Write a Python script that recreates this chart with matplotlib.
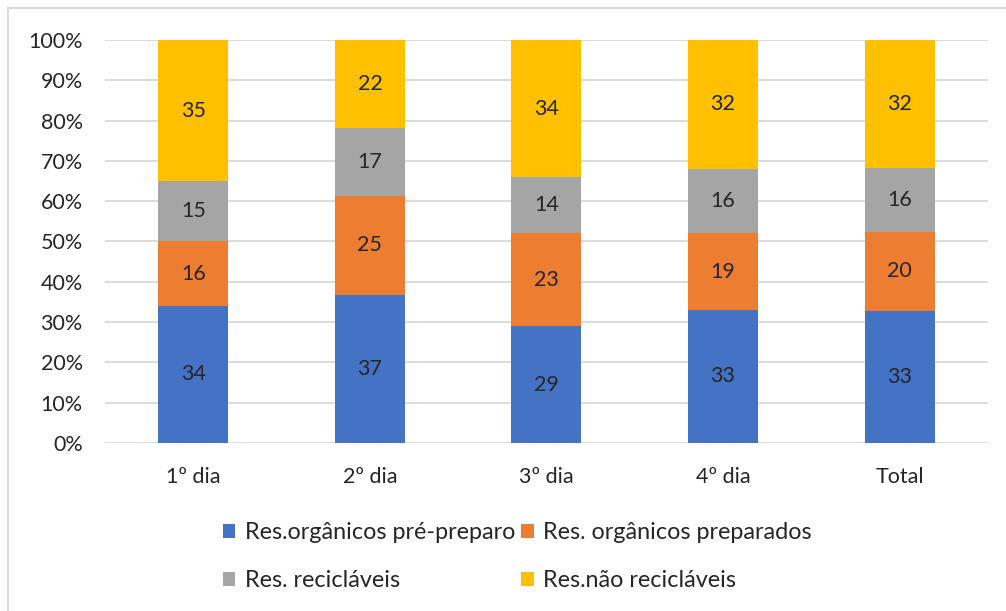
#!/usr/bin/env python3
"""100% stacked bar chart of waste composition per day."""

import matplotlib.pyplot as plt
import numpy as np
from matplotlib.patches import Rectangle
from matplotlib.ticker import PercentFormatter

plt.rcParams["font.family"] = ["Lato", "DejaVu Sans"]

days = ["1º dia", "2º dia", "3º dia", "4º dia", "Total"]
series_names = [
    "Res.orgânicos pré-preparo",
    "Res. orgânicos preparados",
    "Res. recicláveis",
    "Res.não recicláveis",
]
organicos_pre = [34, 37, 29, 33, 33]
organicos_prep = [16, 25, 23, 19, 20]
reciclaveis = [15, 17, 14, 16, 16]
nao_reciclaveis = [35, 22, 34, 32, 32]

colors = ["#4472C4", "#ED7D31", "#A5A5A5", "#FFC000"]
text_color = "#262626"
fs = 15.5

values = np.array([organicos_pre, organicos_prep, reciclaveis, nao_reciclaveis], dtype=float)
shares = values / values.sum(axis=0) * 100

fig = plt.figure(figsize=(10.06, 6.11), dpi=100)
ax = fig.add_axes([0.1044, 0.275, 0.8776, 0.6595])

x = np.arange(len(days))
bottom = np.zeros(len(days))
handles = []
for name, share, raw, color in zip(series_names, shares, values, colors):
    bars = ax.bar(x, share, bottom=bottom, width=0.396, color=color, label=name, zorder=3)
    handles.append(bars)
    for xi, b, s, v in zip(x, bottom, share, raw):
        ax.text(xi, b + s / 2, f"{v:.0f}", ha="center", va="center", fontsize=fs, color=text_color, zorder=4)
    bottom += share

ax.set_xlim(-0.5, len(days) - 0.5)
ax.set_ylim(0, 100)
ax.set_yticks(np.arange(0, 101, 10))
ax.yaxis.set_major_formatter(PercentFormatter(decimals=0))
ax.set_xticks(x)
ax.set_xticklabels(days)
ax.tick_params(axis="both", length=0, labelsize=fs, labelcolor=text_color)
ax.tick_params(axis="x", pad=17)
ax.tick_params(axis="y", pad=16)
ax.grid(axis="y", color="#D9D9D9", linewidth=1.3, zorder=0)
for spine in ax.spines.values():
    spine.set_visible(False)

order = [0, 2, 1, 3]
fig.legend(
    [handles[i] for i in order],
    [series_names[i] for i in order],
    ncol=2,
    loc="center",
    bbox_to_anchor=(0.514, 0.089),
    frameon=False,
    fontsize=16.8,
    labelcolor=text_color,
    handlelength=0.55,
    handleheight=0.55,
    handletextpad=0.4,
    columnspacing=0.25,
    labelspacing=1.15,
)

fig.patches.append(
    Rectangle((8 / 1006, -0.1), 1.2, 1 - 8 / 611 + 0.1, transform=fig.transFigure,
              fill=False, edgecolor="#D9D9D9", linewidth=1.5)
)

fig.savefig("out.png", dpi=100)
